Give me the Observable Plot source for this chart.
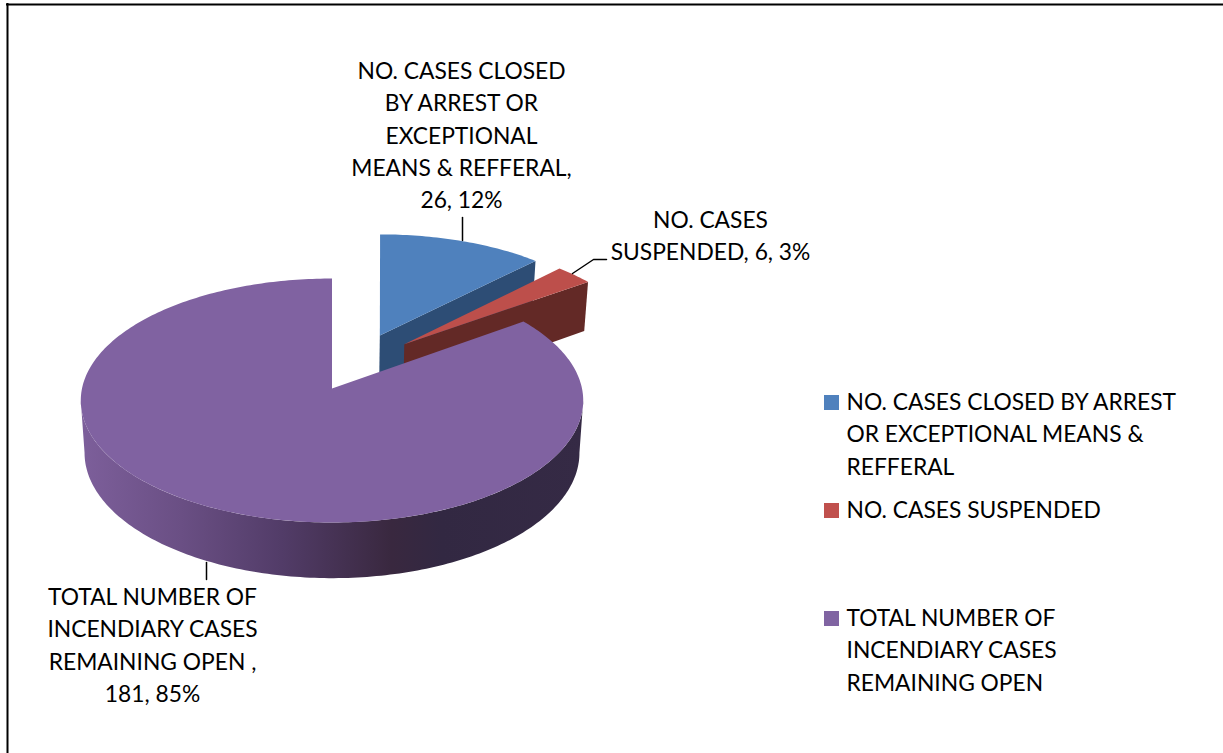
<!DOCTYPE html>
<html>
<head>
<meta charset="utf-8">
<style>html,body{margin:0;padding:0;background:#fff}svg{display:block}</style>
<script src="https://cdn.jsdelivr.net/npm/d3@7"></script>
<script src="https://cdn.jsdelivr.net/npm/@observablehq/plot@0.6"></script>
</head>
<body>
<div id="chart"></div>
<script>
// Data
const categories = ["NO. CASES CLOSED BY ARREST OR EXCEPTIONAL MEANS & REFFERAL", "NO. CASES SUSPENDED", "TOTAL NUMBER OF INCENDIARY CASES REMAINING OPEN"];
const values = [26, 6, 181];
const percents = [12, 3, 85];
const topColors = ["#4f81bd", "#bd4f4b", "#8062a1"];
const wallColors = ["#2d4d75", "#632926", "url(#purpleWall)"];
const legendColors = ["#4f81bd", "#c0504d", "#8064a2"];
const legendLines = [
  ["NO. CASES CLOSED BY ARREST", "OR EXCEPTIONAL MEANS &", "REFFERAL"],
  ["NO. CASES SUSPENDED"],
  ["TOTAL NUMBER OF", "INCENDIARY CASES", "REMAINING OPEN"]
];
const labelLines = [
  ["NO. CASES CLOSED", "BY ARREST OR", "EXCEPTIONAL", "MEANS & REFFERAL,", "26, 12%"],
  ["NO. CASES", "SUSPENDED, 6, 3%"],
  ["TOTAL NUMBER OF", "INCENDIARY CASES", "REMAINING OPEN ,", "181, 85%"]
];

// Layout
const W = 1223, H = 753;
const cx = 331.5, cy = 388, R = 250, S = 120.8, k = 0.0984, depth = 52, baseShrink = 0.985;
const explode = [[0.2, -0.459], [0.3, -0.38], [0, 0]];
const lean = [-0.02, -0.02, 0];
const FONT = "Lato, 'Open Sans', sans-serif", FS = 22.8, LH = 32.4;

// Perspective projection of a point on the unit pie disc
function project(i, u, v, low) {
  const [ex, ey] = explode[i];
  const U = u + ex + lean[i] * v, V = v + ey, w = 1 - k * V;
  const f = low ? baseShrink : 1;
  return {x: cx + R * f * U / w, y: cy + S * f * V / w + (low ? depth / w : 0)};
}
const rim = (i, deg, low) => {
  const t = deg * Math.PI / 180;
  return project(i, Math.sin(t), -Math.cos(t), low);
};

const total = d3.sum(values);
const cum = d3.cumsum(values);
const starts = values.map((v, i) => (cum[i] - v) / total * 360);
const ends = cum.map(c => c / total * 360);

function topFace(i) {
  const pts = [project(i, 0, 0, false)];
  for (const a of d3.range(starts[i], ends[i], 1)) pts.push(rim(i, a, false));
  pts.push(rim(i, ends[i], false));
  return pts;
}
// Flat wall along the closing radius of an exploded slice
function radialWall(i) {
  return [project(i, 0, 0, false), rim(i, ends[i], false), rim(i, ends[i], true), project(i, 0, 0, true)];
}
// Curved front wall of the big slice, between the disc's outermost points
function curvedWall(i) {
  const a0 = Math.acos(-k) * 180 / Math.PI;
  const as = [...d3.range(a0, 360 - a0, 1), 360 - a0];
  return [...as.map(a => rim(i, a, false)), ...as.slice().reverse().map(a => rim(i, a, true))];
}

const face = (pts, fill) => Plot.line(pts, {x: "x", y: "y", fill, stroke: "none", curve: "linear"});

// Text as rows
const rows = (lines, x, y0, step) => lines.map((t, n) => ({t, x, y: y0 + n * step}));
const labelRows = [
  ...rows(labelLines[0], 461, 71, LH),
  ...rows(labelLines[1], 710, 220, LH),
  ...rows(labelLines[2], 152, 597, LH)
];
const legendY = [402, 510, 618];
const legendRows = legendLines.flatMap((lines, i) => rows(lines, 846, legendY[i], LH));
const swatches = legendColors.map((c, i) => ({c, x1: 824, x2: 839, y1: legendY[i] - 7, y2: legendY[i] + 8}));

const gradient = () => {
  const ns = "http://www.w3.org/2000/svg";
  const defs = document.createElementNS(ns, "defs");
  const g = document.createElementNS(ns, "linearGradient");
  g.setAttribute("id", "purpleWall");
  g.setAttribute("gradientUnits", "userSpaceOnUse");
  g.setAttribute("x1", 80); g.setAttribute("x2", 582); g.setAttribute("y1", 0); g.setAttribute("y2", 0);
  [[0, "#7d5f9b"], [0.2, "#6a4f84"], [0.4, "#523c68"], [0.62, "#39283f"], [0.72, "#322842"], [1, "#352a45"]].forEach(([o, c]) => {
    const s = document.createElementNS(ns, "stop");
    s.setAttribute("offset", o); s.setAttribute("stop-color", c); g.appendChild(s);
  });
  defs.appendChild(g);
  return defs;
};

const chart = Plot.plot({
  width: W, height: H,
  margin: 0,
  x: {domain: [0, W], range: [0, W], axis: null},
  y: {domain: [0, H], range: [0, H], axis: null},
  style: {background: "#fff", fontFamily: FONT},
  marks: [
    gradient,
    Plot.ruleX([7], {y1: 3, y2: H, stroke: "#000", strokeWidth: 2}),
    Plot.ruleY([4], {x1: 6, x2: W, stroke: "#000", strokeWidth: 2}),
    // blue slice
    face(radialWall(0), wallColors[0]),
    face(topFace(0), topColors[0]),
    // red slice
    face(radialWall(1), wallColors[1]),
    face(topFace(1), topColors[1]),
    // purple slice
    face(curvedWall(2), wallColors[2]),
    face(topFace(2), topColors[2]),
    // leaders
    Plot.line([{x: 462, y: 217}, {x: 462, y: 240}], {x: "x", y: "y", stroke: "#000", strokeWidth: 1.5}),
    Plot.line([{x: 572, y: 273}, {x: 593, y: 259}, {x: 606, y: 259}], {x: "x", y: "y", stroke: "#000", strokeWidth: 1.5}),
    Plot.line([{x: 206, y: 562}, {x: 206, y: 579}], {x: "x", y: "y", stroke: "#000", strokeWidth: 1.5}),
    // labels
    Plot.text(labelRows, {x: "x", y: "y", text: "t", fontSize: FS, fill: "#000", textAnchor: "middle", lineAnchor: "middle"}),
    // legend
    Plot.rect(swatches, {x1: "x1", x2: "x2", y1: "y1", y2: "y2", fill: "c"}),
    Plot.text(legendRows, {x: "x", y: "y", text: "t", fontSize: FS, fill: "#000", textAnchor: "start", lineAnchor: "middle"})
  ],
  color: {type: "identity"}
});
document.getElementById("chart").appendChild(chart);
</script>
</body>
</html>
